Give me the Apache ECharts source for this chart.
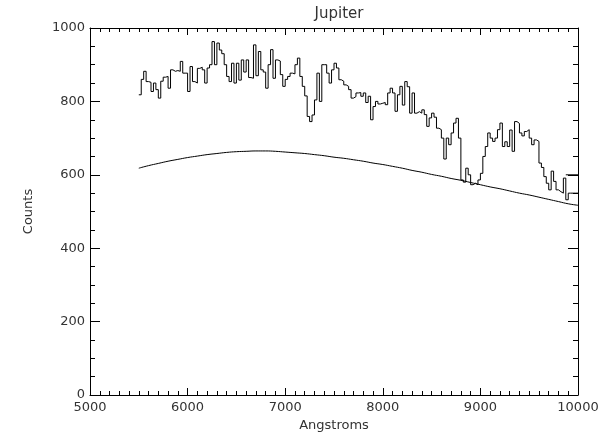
<!DOCTYPE html>
<html>
<head>
<meta charset="utf-8">
<script src="https://cdn.jsdelivr.net/npm/echarts@6/dist/echarts.min.js"></script>
<style>
html,body{margin:0;padding:0;background:#fff;}
#chart{width:611px;height:434px;}
</style>
</head>
<body>
<div id="chart"></div>
<script>
// ---- data ----
const title = 'Jupiter';
const xName = 'Angstroms';
const yName = 'Counts';
const xTicks = [5000, 6000, 7000, 8000, 9000, 10000];
const yTicks = [0, 200, 400, 600, 800, 1000];

// spectrum bins (25 Å wide, starting at 5500 Å)
const binFirst = 5500;
const binWidth = 25;
const spectrum = [
  818, 860, 882, 854, 852, 827, 850, 832, 809, 855,
  866, 868, 836, 886, 882, 884, 882, 909, 877, 877,
  827, 895, 854, 850, 890, 893, 886, 850, 891, 900,
  963, 900, 959, 940, 930, 900, 868, 854, 904, 850,
  904, 858, 913, 880, 913, 865, 863, 954, 870, 936,
  886, 880, 836, 900, 941, 863, 913, 910, 873, 841,
  860, 868, 877, 875, 900, 918, 868, 841, 815, 759,
  745, 763, 804, 877, 800, 900, 900, 877, 850, 886,
  904, 891, 859, 855, 845, 841, 832, 809, 813, 823,
  824, 814, 823, 797, 814, 750, 786, 800, 793, 795,
  797, 791, 823, 836, 823, 773, 818, 841, 790, 854,
  840, 768, 823, 768, 772, 768, 777, 764, 732, 755,
  768, 757, 727, 723, 700, 643, 700, 682, 714, 741,
  754, 700, 586, 580, 618, 600, 573, 577, 573, 586,
  604, 650, 677, 714, 700, 691, 700, 723, 741, 677,
  690, 677, 722, 664, 745, 740, 714, 706, 718, 723,
  700, 682, 695, 691, 632, 620, 595, 577, 559, 610,
  582, 559, 554, 550, 591, 532, 550, 550, 550, 550
];
// final short step at the right edge
const tailX = [9875, 10000];
const tailY = [600, 600];

// smooth continuum curve
const curveX = [5500,5600,5700,5800,5900,6000,6100,6200,6300,6400,6500,6600,6700,6800,6900,
  7000,7100,7200,7300,7400,7500,7600,7700,7800,7900,8000,8100,8200,8300,8400,8500,8600,8700,
  8800,8900,9000,9100,9200,9300,9400,9500,9600,9700,9800,9900,10000];
const curveY = [618,625,631,637,642,647,651,655,658,661,663,664,665,665,664,
  662,660,658,655,652,648,645,641,637,632,628,623,618,612,607,601,596,590,
  585,579,573,567,562,556,550,545,539,533,527,521,517];

// ---- build ----
const stepData = spectrum.map((v, i) => [binFirst + i * binWidth, v]);
stepData.push([binFirst + spectrum.length * binWidth, spectrum[spectrum.length - 1]]);
const curveData = curveX.map((x, i) => [x, curveY[i]]);
const tailData = tailX.map((x, i) => [x, tailY[i]]);

const font = 'DejaVu Sans';
const txt = '#333';
const lineCol = '#000';
const plain = v => String(v);

const xCommon = {
  type: 'value', min: xTicks[0], max: xTicks[xTicks.length - 1], interval: 1000,
  axisLine: { show: true, onZero: false, lineStyle: { color: lineCol, width: 1 } },
  axisTick: { show: true, inside: true, length: 7, lineStyle: { color: lineCol } },
  minorTick: { show: true, splitNumber: 10, length: 4, lineStyle: { color: lineCol } },
  splitLine: { show: false }
};
const yCommon = {
  type: 'value', min: yTicks[0], max: yTicks[yTicks.length - 1], interval: 200,
  axisLine: { show: true, onZero: false, lineStyle: { color: lineCol, width: 1 } },
  axisTick: { show: true, inside: true, length: 10, lineStyle: { color: lineCol } },
  minorTick: { show: true, splitNumber: 4, length: 5, lineStyle: { color: lineCol } },
  splitLine: { show: false }
};

const chart = echarts.init(document.getElementById('chart'), null, { renderer: 'canvas' });
chart.setOption({
  animation: false,
  backgroundColor: '#fff',
  title: {
    text: title, left: 334, top: 2, textAlign: 'center',
    textStyle: { fontFamily: font, fontSize: 15, fontWeight: 'normal', color: txt }
  },
  grid: { left: 90, right: 33, top: 28, bottom: 39, containLabel: false, outerBoundsMode: 'none' },
  xAxis: [
    Object.assign({}, xCommon, {
      position: 'bottom',
      name: xName, nameLocation: 'middle', nameGap: 23,
      nameTextStyle: { fontFamily: font, fontSize: 13, color: txt },
      axisLabel: { show: true, margin: 6, fontFamily: font, fontSize: 13, color: txt, formatter: plain }
    }),
    Object.assign({}, xCommon, { position: 'top', axisLabel: { show: false } })
  ],
  yAxis: [
    Object.assign({}, yCommon, {
      position: 'left',
      name: yName, nameLocation: 'middle', nameGap: 55,
      nameTextStyle: { fontFamily: font, fontSize: 13, color: txt },
      axisLabel: { show: true, margin: 5, fontFamily: font, fontSize: 13, color: txt, formatter: plain }
    }),
    Object.assign({}, yCommon, { position: 'right', axisLabel: { show: false } })
  ],
  series: [
    {
      type: 'line', data: stepData, step: 'end', symbol: 'none',
      lineStyle: { color: lineCol, width: 1 }, xAxisIndex: 0, yAxisIndex: 0
    },
    {
      type: 'line', data: tailData, symbol: 'none',
      lineStyle: { color: lineCol, width: 1 }, xAxisIndex: 0, yAxisIndex: 0
    },
    {
      type: 'line', data: curveData, smooth: true, symbol: 'none',
      lineStyle: { color: lineCol, width: 1 }, xAxisIndex: 0, yAxisIndex: 0
    }
  ]
});
</script>
</body>
</html>
